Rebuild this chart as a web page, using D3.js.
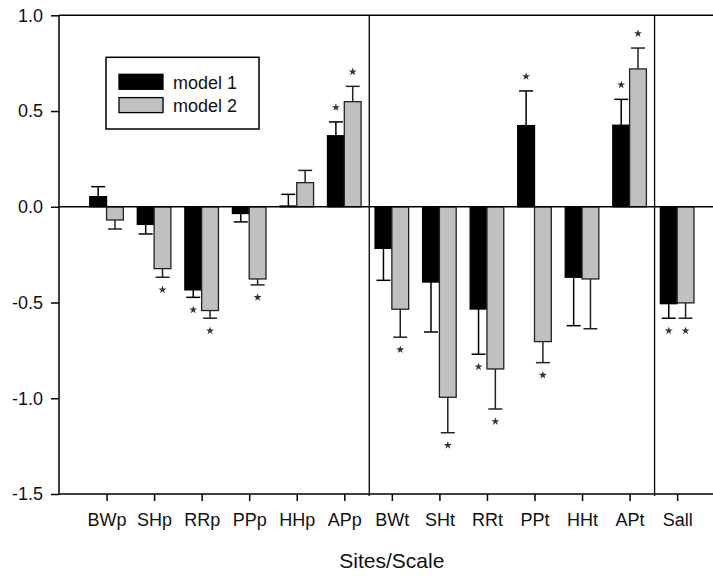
<!DOCTYPE html>
<html>
<head>
<meta charset="utf-8">
<script src="https://cdn.jsdelivr.net/npm/d3@7"></script>
<style>
  body { margin: 0; background: #fff; }
  text { font-family: "Liberation Sans", Arial, sans-serif; fill: #111; }
</style>
</head>
<body>
<svg id="chart" width="713" height="576"></svg>
<script>

const sites     = [ "BWp", "SHp", "RRp", "PPp", "HHp", "APp", "BWt", "SHt", "RRt", "PPt", "HHt", "APt", "Sall" ]
const model1    = [ 0.053, -0.092, -0.434, -0.035, 0.004, 0.371, -0.217, -0.393, -0.534, 0.424, -0.368, 0.426, -0.506 ]
const model1Err = [ 0.052, 0.050, 0.039, 0.044, 0.061, 0.072, 0.167, 0.261, 0.236, 0.181, 0.253, 0.135, 0.076 ]
const model2    = [ -0.069, -0.323, -0.542, -0.377, 0.126, 0.549, -0.535, -0.995, -0.847, -0.704, -0.377, 0.720, -0.502 ]
const model2Err = [ 0.047, 0.045, 0.040, 0.031, 0.064, 0.080, 0.146, 0.185, 0.209, 0.110, 0.260, 0.109, 0.080 ]
const sig1      = [ 0, 0, 1, 0, 0, 1, 0, 0, 1, 1, 0, 1, 1 ]
const sig2      = [ 0, 1, 1, 1, 0, 1, 1, 1, 1, 1, 0, 1, 1 ]
const seriesNames = [ "model 1", "model 2" ]
const seriesColors = [ "#000000", "#c0c0c0" ]
const yTicks = [ 1.0, 0.5, 0.0, -0.5, -1.0, -1.5 ]
// groups separated by vertical lines : plot scale | tree scale | all
const dividersAfter = [ "APp", "APt" ]

const plotLeft = 59, plotTop = 15.3, plotBottom = 494
const step = 47.55
const plotRight = plotLeft + ( sites.length + 1 ) * step

var svg = d3.select("#chart")

var x = d3.scalePoint()
          .domain( sites )
          .range( [ plotLeft, plotRight ] )
          .padding( 1 )

var x1 = d3.scaleBand()
           .domain( [ 0, 1 ] )
           .range( [ -16.8, 16.8 ] )

var y = d3.scaleLinear()
          .domain( [ -1.5, 1.0 ] )
          .range( [ plotBottom, plotTop ] )

let rows = []
sites.forEach( (s, i) => {
  rows.push( { site: s, k: 0, v: model1[i], e: model1Err[i], sig: sig1[i] } )
  rows.push( { site: s, k: 1, v: model2[i], e: model2Err[i], sig: sig2[i] } )
})

// bars
svg.append("g")
   .selectAll("rect")
   .data( rows )
   .join("rect")
   .attr("x", d => x( d.site ) + x1( d.k ) )
   .attr("width", x1.bandwidth() )
   .attr("y", d => y( Math.max( 0, d.v ) ) )
   .attr("height", d => Math.abs( y( d.v ) - y( 0 ) ) )
   .attr("fill", d => seriesColors[ d.k ] )
   .attr("stroke", d => d.k == 0 ? "#000" : "#222" )
   .attr("stroke-width", 1.3 )

// error bars, only away from zero
var err = svg.append("g")
             .selectAll("g")
             .data( rows )
             .join("g")
             .attr("stroke", d => d.k == 0 ? "#000" : "#222" )
             .attr("stroke-width", 1.5 )

const endOf = d => d.v >= 0 ? d.v + d.e : d.v - d.e
const cx = d => x( d.site ) + x1( d.k ) + x1.bandwidth() / 2

err.append("line")
   .attr("x1", cx ).attr("x2", cx )
   .attr("y1", d => y( d.v ) )
   .attr("y2", d => y( endOf( d ) ) )

err.append("line")
   .attr("x1", d => cx( d ) - 7 ).attr("x2", d => cx( d ) + 7 )
   .attr("y1", d => y( endOf( d ) ) )
   .attr("y2", d => y( endOf( d ) ) )

// significance stars
svg.append("g")
   .selectAll("path")
   .data( rows.filter( d => d.sig ) )
   .join("path")
   .attr("d", d3.symbol( d3.symbolStar, 20 ) )
   .attr("fill", "#333")
   .attr("transform", d => "translate(" + cx( d ) + "," + ( y( endOf( d ) ) + ( d.v >= 0 ? -14.5 : 12.5 ) ) + ")" )

// zero line
svg.append("line")
   .attr("x1", plotLeft ).attr("x2", plotRight )
   .attr("y1", y( 0 ) ).attr("y2", y( 0 ) )
   .attr("stroke", "#000").attr("stroke-width", 1.5 )

// top frame line
svg.append("line")
   .attr("x1", plotLeft ).attr("x2", plotRight )
   .attr("y1", plotTop ).attr("y2", plotTop )
   .attr("stroke", "#000").attr("stroke-width", 1.5 )

// dividers
svg.append("g")
   .selectAll("line")
   .data( dividersAfter )
   .join("line")
   .attr("x1", d => x( d ) + step / 2 + 1.2 )
   .attr("x2", d => x( d ) + step / 2 + 1.2 )
   .attr("y1", plotTop ).attr("y2", plotBottom + 2 )
   .attr("stroke", "#000").attr("stroke-width", 1.3 )

// axes
var yAxis = svg.append("g")
               .attr("transform", "translate(" + plotLeft + ",0)")
               .call( d3.axisLeft( y )
                        .tickValues( yTicks )
                        .tickFormat( d => d.toFixed( 1 ) )
                        .tickSize( 8 )
                        .tickPadding( 8 ) )

var xAxis = svg.append("g")
               .attr("transform", "translate(0," + plotBottom + ")")
               .call( d3.axisBottom( x )
                        .tickSize( 7 )
                        .tickPadding( 12 ) )

svg.selectAll(".domain").remove()

svg.selectAll(".tick line")
   .attr("stroke", "#000")
   .attr("stroke-width", 1.5 )

svg.selectAll(".tick text")
   .attr("font-size", 18 )
   .attr("font-family", "Liberation Sans, Arial, sans-serif")
   .attr("fill", "#111")

svg.append("line")
   .attr("x1", plotLeft ).attr("x2", plotLeft )
   .attr("y1", plotTop ).attr("y2", plotBottom )
   .attr("stroke", "#000").attr("stroke-width", 1.5 )

svg.append("line")
   .attr("x1", plotLeft ).attr("x2", plotRight )
   .attr("y1", plotBottom ).attr("y2", plotBottom )
   .attr("stroke", "#000").attr("stroke-width", 1.5 )

svg.append("text")
   .attr("x", ( plotLeft + plotRight ) / 2 )
   .attr("y", 568 )
   .attr("text-anchor", "middle")
   .attr("font-size", 21 )
   .text("Sites/Scale")

// legend
var legend = svg.append("g")

legend.append("rect")
      .attr("x", 106 ).attr("y", 57.3 )
      .attr("width", 153 ).attr("height", 71.7 )
      .attr("fill", "#fff")
      .attr("stroke", "#000").attr("stroke-width", 1.5 )

var item = legend.selectAll(".item")
                 .data( seriesNames )
                 .join("g")
                 .attr("transform", (d, i) => "translate(119," + ( 74.3 + i * 23.3 ) + ")")

item.append("rect")
    .attr("width", 44 ).attr("height", 15 )
    .attr("fill", (d, i) => seriesColors[ i ] )
    .attr("stroke", "#000").attr("stroke-width", 1.3 )

item.append("text")
    .attr("x", 54 ).attr("y", 14.2 )
    .attr("font-size", 18 )
    .text( d => d )

</script>
</body>
</html>
